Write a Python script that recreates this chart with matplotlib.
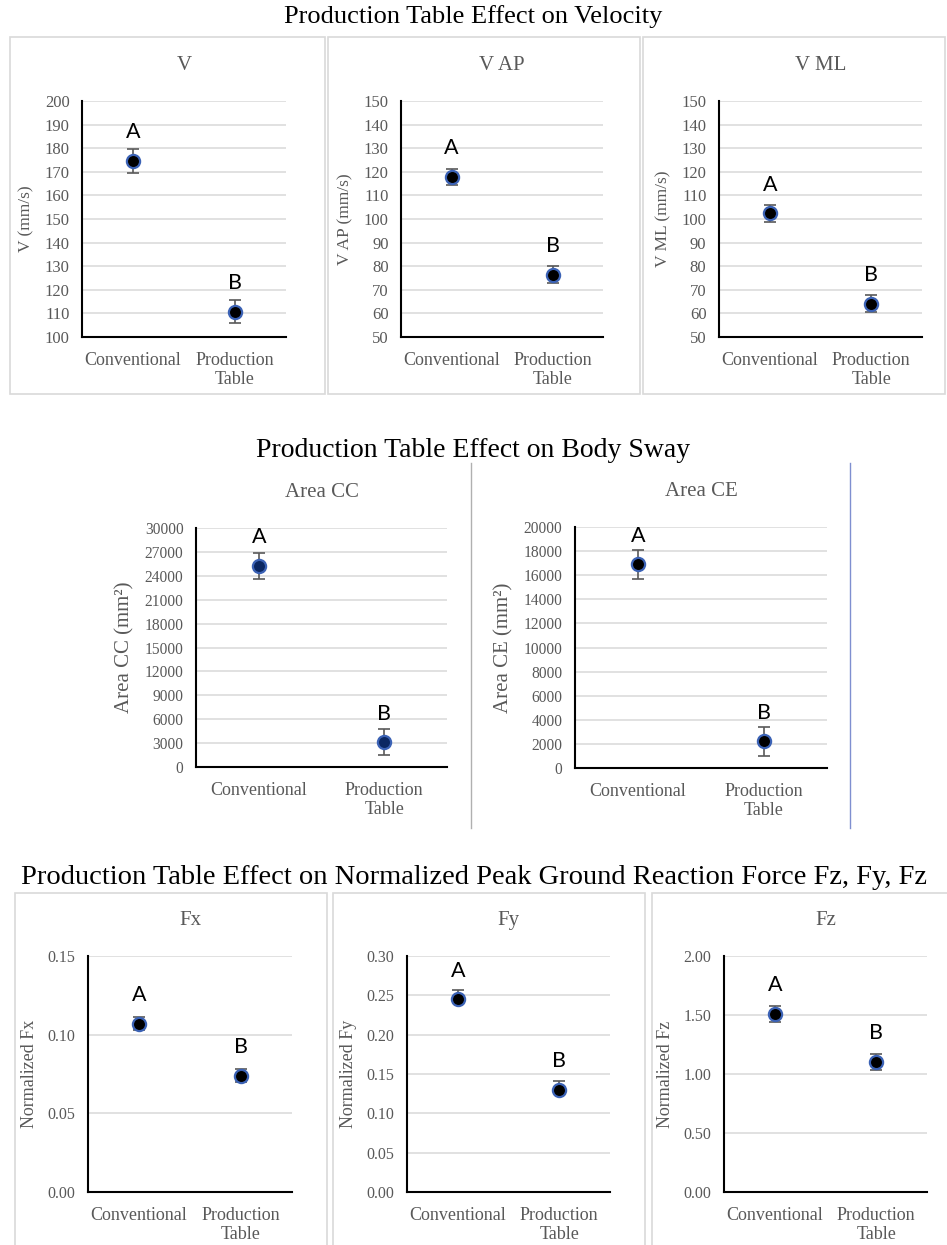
import numpy as np
import matplotlib
matplotlib.use("Agg")
import matplotlib.pyplot as plt
from matplotlib.patches import Rectangle
from matplotlib.lines import Line2D
from matplotlib.ticker import FormatStrFormatter

# chart data
groups = ["Conventional", "Production\nTable"]
letters = ["A", "B"]

v_mean = [174.7, 110.8]
v_err = [5.0, 5.0]
vap_mean = [117.8, 76.4]
vap_err = [3.5, 3.5]
vml_mean = [102.4, 64.1]
vml_err = [3.5, 3.5]

cc_mean = [25200, 3100]
cc_err = [1650, 1650]
ce_mean = [16900, 2200]
ce_err = [1200, 1200]

fx_mean = [0.107, 0.074]
fx_err = [0.004, 0.004]
fy_mean = [0.245, 0.130]
fy_err_lo = [0.0, 0.0]
fy_err_hi = [0.012, 0.011]
fz_mean = [1.51, 1.10]
fz_err = [0.07, 0.07]

W, H = 947, 1245
GRAY = "#595959"
GRID = "#d9d9d9"
SERIF = "Liberation Serif"

fig = plt.figure(figsize=(W / 100, H / 100), dpi=100)


def px(l, t, r, b):
    # pixel box -> figure fraction
    return [l / W, 1 - b / H, (r - l) / W, (b - t) / H]


def panel(box, means, lo, hi, ylim, step, title, ylabel, fmt=None,
          ytick_fs=12, xtick_fs=13, ylab_fs=12.5, face="black"):
    ax = fig.add_axes(px(*box))
    x = np.arange(len(groups))
    ax.errorbar(x, means, yerr=[lo, hi], fmt="none", ecolor=GRAY,
                elinewidth=1.2, capsize=4, capthick=1.2, zorder=3)
    ax.plot(x, means, "o", ms=9.5, mfc=face, mec="#3b62b5", mew=1.6,
            zorder=4, linestyle="none")
    for xi, m, lab in zip(x, means, letters):
        ax.annotate(lab, (xi, m), xytext=(0, 13.5), textcoords="offset points",
                    ha="center", va="bottom", fontsize=15.5, family="Lato",
                    color="black")
    ax.set_xlim(-0.5, 1.5)
    ax.set_ylim(*ylim)
    ax.set_yticks(np.arange(ylim[0], ylim[1] + step / 2, step))
    ax.set_xticks(x)
    ax.set_xticklabels(groups, fontsize=xtick_fs, family=SERIF, color=GRAY,
                       linespacing=1.15)
    for t in ax.get_yticklabels():
        t.set_fontsize(ytick_fs)
        t.set_family(SERIF)
        t.set_color(GRAY)
    if fmt:
        ax.yaxis.set_major_formatter(FormatStrFormatter(fmt))
    ax.tick_params(axis="both", length=0)
    ax.tick_params(axis="y", pad=9)
    ax.tick_params(axis="x", pad=11)
    ax.grid(axis="y", color=GRID, lw=1.1)
    ax.set_axisbelow(True)
    for s in ["top", "right"]:
        ax.spines[s].set_visible(False)
    for s in ["left", "bottom"]:
        ax.spines[s].set_color("black")
        ax.spines[s].set_linewidth(1.5)
    ax.set_title(title, fontsize=15, family=SERIF, color=GRAY, pad=22)
    ax.set_ylabel(ylabel, fontsize=ylab_fs, family=SERIF, color=GRAY,
                  labelpad=7)
    return ax


def frame(l, t, r, b):
    fig.add_artist(Rectangle((l / W, 1 - b / H), (r - l) / W, (b - t) / H,
                             transform=fig.transFigure, fill=False,
                             edgecolor=GRID, lw=1.2))


# row 1: velocity
fig.text(0.5, 1 - 17 / H, "Production Table Effect on Velocity",
         ha="center", va="center", fontsize=19, family=SERIF)
frame(10, 37, 325, 394)
frame(328, 37, 640, 394)
frame(643, 37, 945, 394)
panel((82, 101, 286, 337), v_mean, v_err, v_err, (100, 200), 10,
      "V", "V (mm/s)")
panel((401, 101, 603, 337), vap_mean, vap_err, vap_err, (50, 150), 10,
      "V AP", "V AP (mm/s)")
panel((719, 101, 922, 337), vml_mean, vml_err, vml_err, (50, 150), 10,
      "V ML", "V ML (mm/s)")

# row 2: body sway
fig.text(0.5, 1 - 450 / H, "Production Table Effect on Body Sway",
         ha="center", va="center", fontsize=20, family=SERIF)
fig.add_artist(Line2D([471 / W, 471 / W], [1 - 463 / H, 1 - 828 / H],
                      transform=fig.transFigure, color="#b0b0b0", lw=1))
fig.add_artist(Line2D([850 / W, 850 / W], [1 - 463 / H, 1 - 828 / H],
                      transform=fig.transFigure, color="#7f8fd0", lw=1))
panel((196, 528, 447, 767), cc_mean, cc_err, cc_err, (0, 30000), 3000,
      "Area CC", "Area CC (mm²)", ytick_fs=11.2, ylab_fs=15,
      face="#0b2762")
panel((575, 527, 827, 768), ce_mean, ce_err, ce_err, (0, 20000), 2000,
      "Area CE", "Area CE (mm²)", ytick_fs=11.2, ylab_fs=15)

# row 3: ground reaction force
fig.text(0.5, 1 - 877 / H,
         "Production Table Effect on Normalized Peak Ground Reaction Force Fz, Fy, Fz",
         ha="center", va="center", fontsize=20.5, family=SERIF)
frame(15, 893, 327, 1260)
frame(333, 893, 645, 1260)
frame(652, 893, 960, 1260)
panel((88, 956, 292, 1192), fx_mean, fx_err, fx_err, (0, 0.15), 0.05,
      "Fx", "Normalized Fx", fmt="%.2f", ytick_fs=11.5, ylab_fs=13)
panel((407, 956, 610, 1192), fy_mean, fy_err_lo, fy_err_hi, (0, 0.30), 0.05,
      "Fy", "Normalized Fy", fmt="%.2f", ytick_fs=11.5, ylab_fs=13)
panel((724, 956, 927, 1192), fz_mean, fz_err, fz_err, (0, 2.0), 0.5,
      "Fz", "Normalized Fz", fmt="%.2f", ytick_fs=11.5, ylab_fs=13)

fig.savefig("out.png", dpi=100, facecolor="white")
